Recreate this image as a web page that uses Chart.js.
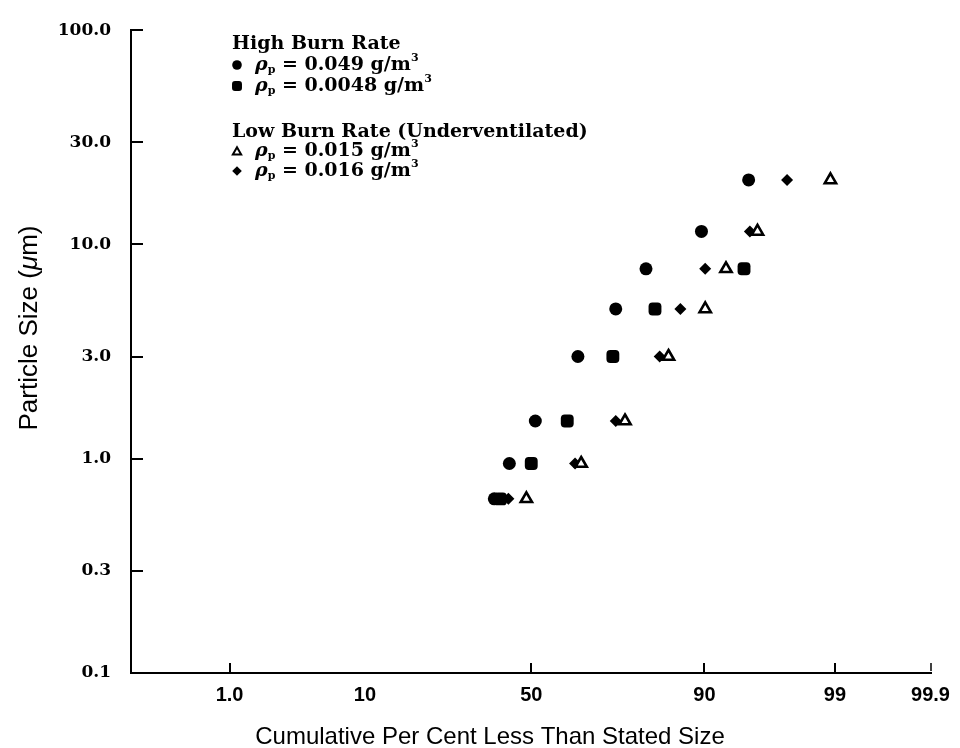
<!DOCTYPE html>
<html>
<head>
<meta charset="utf-8">
<script src="https://cdn.jsdelivr.net/npm/chart.js@4.4.0/dist/chart.umd.min.js"></script>
<style>
  html, body { margin: 0; padding: 0; background: #fff; }
  #wrap { position: relative; width: 960px; height: 748px; }
</style>
</head>
<body>
<div id="wrap"><canvas id="psdChart" width="960" height="748"></canvas></div>
<script>
// particle size (um) of each row of points
const sizes = [20, 11.5, 7.7, 5.0, 3.0, 1.5, 0.95, 0.65];
const sizesSquare = [7.7, 5.0, 3.0, 1.5, 0.95, 0.65];

// cumulative per cent less than stated size, one list per run
const highBurn049 = [94.9, 89.6, 80.2, 73.4, 63.5, 51.2, 43.3, 38.8];
const highBurn0048 = [94.5, 82.0, 72.7, 60.5, 50.0, 40.6];
const lowBurn015 = [98.9, 95.6, 92.7, 90.1, 84.5, 75.6, 64.4, 48.5];
const lowBurn016 = [97.4, 95.0, 90.1, 86.5, 82.9, 73.4, 62.7, 43.0];

// tick labels
const xTickPercents = [1, 10, 50, 90, 99, 99.9];
const xTickLabels = ["1.0", "10", "50", "90", "99", "99.9"];
const yTicks = [100, 30, 10, 3, 1, 0.3, 0.1];
const yTickLabels = ["100.0", "30.0", "10.0", "3.0", "1.0", "0.3", "0.1"];

// where the printed probability paper puts each x tick (axis units)
const xTickPos = [230, 366, 533, 707, 838, 934];

// inverse normal cdf (Acklam)
function probit(p) {
  const a = [-39.69683028665376, 220.9460984245205, -275.9285104469687, 138.3577518672690, -30.66479806614716, 2.506628277459239];
  const b = [-54.47609879822406, 161.5858368580409, -155.6989798598866, 66.80131188771972, -13.28068155288572];
  const c = [-0.007784894002430293, -0.3223964580411365, -2.400758277161838, -2.549671748942546, 4.374664141464968, 2.938163982698783];
  const d = [0.007784695709041462, 0.3224671290700398, 2.445134137142996, 3.754408661907416];
  const pl = 0.02425;
  let q, r;
  if (p < pl) {
    q = Math.sqrt(-2 * Math.log(p));
    return (((((c[0]*q+c[1])*q+c[2])*q+c[3])*q+c[4])*q+c[5]) / ((((d[0]*q+d[1])*q+d[2])*q+d[3])*q+1);
  }
  if (p > 1 - pl) {
    q = Math.sqrt(-2 * Math.log(1 - p));
    return -(((((c[0]*q+c[1])*q+c[2])*q+c[3])*q+c[4])*q+c[5]) / ((((d[0]*q+d[1])*q+d[2])*q+d[3])*q+1);
  }
  q = p - 0.5; r = q * q;
  return (((((a[0]*r+a[1])*r+a[2])*r+a[3])*r+a[4])*r+a[5])*q / (((((b[0]*r+b[1])*r+b[2])*r+b[3])*r+b[4])*r+1);
}

const anchorZ = xTickPercents.map(p => probit(p / 100));
function pctToAxis(p) {
  const z = probit(p / 100);
  let i = 0;
  while (i < anchorZ.length - 2 && z > anchorZ[i + 1]) i++;
  const t = (z - anchorZ[i]) / (anchorZ[i + 1] - anchorZ[i]);
  return xTickPos[i] + t * (xTickPos[i + 1] - xTickPos[i]);
}

function pts(pcts, ys) {
  return pcts.map((p, i) => ({ x: pctToAxis(p), y: ys[i] }));
}

const markers = {
  circle:   { pointStyle: "circle",      radius: 6.5, borderWidth: 0,   fill: "#000" },
  square:   { pointStyle: "rectRounded", radius: 7.5, borderWidth: 0,   fill: "#000" },
  triangle: { pointStyle: "triangle",    radius: 6.5, borderWidth: 2.6, fill: "#fff" },
  diamond:  { pointStyle: "rectRot",     radius: 6,   borderWidth: 0,   fill: "#000" },
};

function ds(label, data, m, order) {
  return {
    label: label,
    data: data,
    showLine: false,
    order: order,
    pointStyle: m.pointStyle,
    pointRadius: m.radius,
    pointHoverRadius: m.radius,
    pointBorderWidth: m.borderWidth,
    pointBackgroundColor: m.fill,
    pointBorderColor: "#000",
  };
}

const serif = "'DejaVu Serif', serif";

// short tick marks pointing into the plot, as on the paper
const tickMarks = {
  id: "tickMarks",
  afterDraw(chart) {
    const { ctx, chartArea: a, scales: { x, y } } = chart;
    ctx.save();
    ctx.strokeStyle = "#000";
    ctx.lineWidth = 2;
    yTicks.forEach(v => {
      const py = Math.round(y.getPixelForValue(v));
      ctx.beginPath(); ctx.moveTo(a.left, py); ctx.lineTo(a.left + 12, py); ctx.stroke();
    });
    xTickPos.forEach((u, i) => {
      if (xTickLabels[i] === "10") return; // no mark printed there
      const px = Math.round(x.getPixelForValue(u));
      ctx.lineWidth = i === xTickPos.length - 1 ? 1.5 : 2;
      ctx.beginPath(); ctx.moveTo(px, a.bottom - (i === xTickPos.length - 1 ? 2 : 0)); ctx.lineTo(px, a.bottom - 10); ctx.stroke();
    });
    ctx.restore();
  },
};

function drawRich(ctx, x, y, parts) {
  parts.forEach(p => {
    ctx.font = p.font;
    ctx.fillText(p.t, x, y + (p.dy || 0));
    x += ctx.measureText(p.t).width;
  });
  return x;
}

function marker(ctx, m, x, y, r) {
  ctx.fillStyle = m.fill;
  ctx.strokeStyle = "#000";
  ctx.lineWidth = m.borderWidth ? 2 : 0;
  const opts = { pointStyle: m.pointStyle, radius: r, borderWidth: m.borderWidth ? 2 : 0, rotation: 0 };
  if (Chart.helpers && Chart.helpers.drawPoint) {
    Chart.helpers.drawPoint(ctx, opts, x, y);
  } else {
    ctx.beginPath(); ctx.arc(x, y, r, 0, Math.PI * 2); ctx.fill();
  }
}

// legend block and axis titles
const annotations = {
  id: "annotations",
  afterDraw(chart) {
    const ctx = chart.ctx;
    ctx.save();
    ctx.fillStyle = "#000";
    ctx.textBaseline = "middle";
    ctx.textAlign = "left";

    const fb = "bold 19px " + serif;
    const fi = "italic bold 19px " + serif;
    const fs = "bold 11px " + serif;
    const rho = (val) => [
      { t: "\u03C1", font: fi },
      { t: "p", font: fs, dy: 5 },
      { t: " = " + val + " g/m", font: fb },
      { t: "3", font: fs, dy: -7 },
    ];

    ctx.font = fb;
    ctx.fillText("High Burn Rate", 232, 44);
    marker(ctx, markers.circle, 237, 65, 4.8);
    ctx.fillStyle = "#000";
    drawRich(ctx, 255, 65, rho("0.049"));
    marker(ctx, markers.square, 237, 86, 5.8);
    ctx.fillStyle = "#000";
    drawRich(ctx, 255, 86, rho("0.0048"));

    ctx.font = fb;
    ctx.fillText("Low Burn Rate (Underventilated)", 232, 132);
    marker(ctx, markers.triangle, 237, 152, 4.8);
    ctx.fillStyle = "#000";
    drawRich(ctx, 255, 151, rho("0.015"));
    marker(ctx, markers.diamond, 237, 171, 4.8);
    ctx.fillStyle = "#000";
    drawRich(ctx, 255, 171, rho("0.016"));

    // x axis title
    ctx.textAlign = "center";
    ctx.font = "24px 'Liberation Sans', sans-serif";
    ctx.fillText("Cumulative Per Cent Less Than Stated Size", 490, 737);

    // y axis title, rotated
    ctx.translate(30, 328);
    ctx.rotate(-Math.PI / 2);
    ctx.textAlign = "left";
    const yFont = "26px 'Liberation Sans', sans-serif";
    const yParts = [
      { t: "Particle Size (", font: yFont },
      { t: "\u03BC", font: "italic " + yFont },
      { t: "m)", font: yFont },
    ];
    let w = 0;
    yParts.forEach(p => { ctx.font = p.font; w += ctx.measureText(p.t).width; });
    drawRich(ctx, -w / 2, 0, yParts);
    ctx.restore();
  },
};

document.addEventListener("DOMContentLoaded", function () {
  const canvas = document.getElementById("psdChart");
  if (!canvas) return;

  new Chart(canvas.getContext("2d"), {
    type: "scatter",
    data: {
      datasets: [
        ds("High Burn Rate, 0.049 g/m3", pts(highBurn049, sizes), markers.circle, 2),
        ds("High Burn Rate, 0.0048 g/m3", pts(highBurn0048, sizesSquare), markers.square, 3),
        ds("Low Burn Rate, 0.015 g/m3", pts(lowBurn015, sizes), markers.triangle, 0),
        ds("Low Burn Rate, 0.016 g/m3", pts(lowBurn016, sizes), markers.diamond, 1),
      ],
    },
    options: {
      responsive: false,
      animation: false,
      layout: { padding: { left: 0, top: 21, right: 25, bottom: 0 } },
      scales: {
        x: {
          type: "linear",
          min: 131,
          max: 935,
          afterFit: (s) => { s.height = 75; },
          afterBuildTicks: (s) => { s.ticks = xTickPos.map(v => ({ value: v })); },
          grid: { display: false, drawTicks: false },
          border: { display: true, color: "#000", width: 2 },
          ticks: {
            autoSkip: false,
            maxRotation: 0,
            padding: 10,
            color: "#000",
            font: { family: "'Liberation Sans', sans-serif", weight: "bold", size: 20 },
            callback: (v, i) => xTickLabels[i],
          },
        },
        y: {
          type: "logarithmic",
          min: 0.1,
          max: 100,
          afterFit: (s) => { s.width = 131; },
          afterBuildTicks: (s) => { s.ticks = yTicks.map(v => ({ value: v })); },
          grid: { display: false, drawTicks: false },
          border: { display: true, color: "#000", width: 2 },
          ticks: {
            autoSkip: false,
            padding: 20,
            color: "#000",
            font: { family: serif, weight: "bold", size: 17 },
            callback: (v, i) => yTickLabels[i],
          },
        },
      },
      plugins: {
        legend: { display: false },
        tooltip: { enabled: false },
      },
    },
    plugins: [tickMarks, annotations],
  });
});
</script>
</body>
</html>
